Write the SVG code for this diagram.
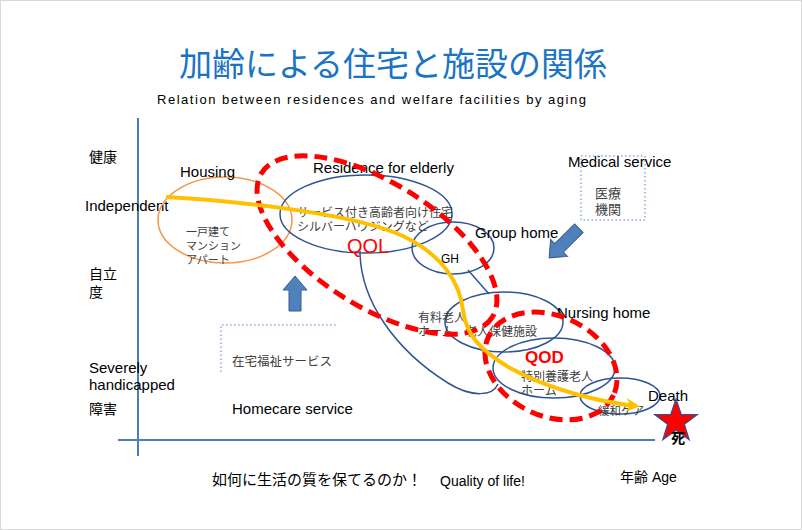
<svg xmlns="http://www.w3.org/2000/svg" width="802" height="530" viewBox="0 0 802 530">
<defs>
<style>
.en{font-family:"Liberation Sans",Arial,sans-serif;fill:#000}
.jp{font-family:"Liberation Sans","Noto Sans CJK JP",sans-serif;fill:#000}
.jpi{font-family:"Noto Sans CJK JP",sans-serif;fill:#404040;font-size:12px}
.el{fill:none;stroke:#2f5496;stroke-width:1.5}
.dash{fill:none;stroke:#ff0000;stroke-width:5;stroke-dasharray:13 7}
.dot{fill:none;stroke:#8eaadb;stroke-width:1.5;stroke-dasharray:1.5 2.5}
.axis{stroke:#4a7ebb;stroke-width:2;fill:none}
.barrow{fill:#4f81bd;stroke:#385d8a;stroke-width:1}
</style>
<marker id="ya" markerUnits="userSpaceOnUse" markerWidth="16" markerHeight="16" viewBox="0 0 16 16" refX="10" refY="8" orient="auto">
<path d="M0,1 L14,8 L0,15 L4,8 Z" fill="#ffc000"/>
</marker>
</defs>
<rect x="0.5" y="0.5" width="801" height="529" fill="#ffffff" stroke="#d9d9d9"/>

<g id="title">
<text x="393" y="76" text-anchor="middle" style="font-family:'Noto Sans CJK JP',sans-serif;font-size:33px;fill:#1a73c4">加齢による住宅と施設の関係</text>
<text x="157" y="104" class="en" style="font-size:13px" textLength="429" lengthAdjust="spacing">Relation between residences  and  welfare facilities by  aging</text>
</g>

<g id="axes">
<line x1="138" y1="118" x2="138" y2="456" class="axis"/>
<line x1="118" y1="440" x2="655" y2="440" class="axis"/>
</g>

<g id="y-labels">
<text x="89" y="162" class="jp" style="font-size:14px">健康</text>
<text x="85" y="211" class="en" style="font-size:15px">Independent</text>
<text x="89" y="279" class="jp" style="font-size:14px">自立</text>
<text x="89" y="297" class="jp" style="font-size:14px">度</text>
<text x="89" y="373" class="en" style="font-size:15px">Severely</text>
<text x="89" y="390" class="en" style="font-size:15px">handicapped</text>
<text x="89" y="414" class="jp" style="font-size:14px">障害</text>
</g>

<g id="housing">
<ellipse cx="225" cy="220" rx="67" ry="43" fill="none" stroke="#f79646" stroke-width="1.5"/>
<text x="180" y="177" class="en" style="font-size:15px">Housing</text>
<text x="186" y="236" class="jpi" style="font-size:11px">一戸建て</text>
<text x="186" y="250" class="jpi" style="font-size:11px">マンション</text>
<text x="186" y="264" class="jpi" style="font-size:11px">アパート</text>
</g>

<g id="residence">
<ellipse cx="366" cy="214" rx="86" ry="39" class="el"/>
<text x="313" y="173" class="en" style="font-size:15px">Residence for elderly</text>
<text x="297" y="217" class="jpi">サービス付き高齢者向け住宅</text>
<text x="297" y="231" class="jpi">シルバーハウジングなど</text>
</g>

<g id="facility-range">
<path d="M 360 251 C 360 300, 395 350, 448 383 C 472 398, 493 396, 498 384" class="el"/>
<path d="M 468 270 L 489 294" class="el"/>
</g>

<g id="group-home">
<ellipse cx="453" cy="248" rx="41" ry="26" class="el"/>
<text x="441" y="263" class="en" style="font-size:12px">GH</text>
<text x="475" y="238" class="en" style="font-size:15px">Group home</text>
</g>

<g id="nursing-home">
<ellipse cx="504" cy="322" rx="59" ry="30" class="el"/>
<text x="557" y="318" class="en" style="font-size:15px">Nursing home</text>
<text x="418" y="322" class="jpi">有料老人</text>
<text x="418" y="336" class="jpi">ホーム</text>
<text x="465" y="336" class="jpi">老人保健施設</text>
</g>

<g id="special-nursing">
<ellipse cx="554" cy="368" rx="61" ry="30" class="el"/>
<text x="521" y="381" class="jpi">特別養護老人</text>
<text x="521" y="395" class="jpi">ホーム</text>
</g>

<g id="palliative">
<ellipse cx="620" cy="396" rx="40" ry="18" class="el"/>
<text x="598" y="415" class="jpi" style="font-size:11.5px">緩和ケア</text>
<text x="648" y="401" class="en" style="font-size:15px">Death</text>
</g>

<g id="death">
<polygon points="676,399 681.2,414.3 697.4,414.5 684.4,424.2 689.2,439.7 676,430.3 662.8,439.7 667.6,424.2 654.6,414.5 670.8,414.3" fill="#ff0000" stroke="#2f5496" stroke-width="1.2"/>
<text x="671" y="443" class="jp" style="font-size:14px;font-weight:bold">死</text>
</g>

<g id="medical">
<rect x="581" y="156" width="64" height="64" class="dot"/>
<text x="568" y="167" class="en" style="font-size:15px">Medical service</text>
<text x="595" y="198" class="jpi" style="font-size:13px">医療</text>
<text x="595" y="214" class="jpi" style="font-size:13px">機関</text>
</g>

<g id="homecare">
<path d="M 221 372 L 221 325 L 338 325" class="dot"/>
<text x="232" y="366" class="jpi" style="font-size:12.5px">在宅福祉サービス</text>
<text x="232" y="414" class="en" style="font-size:15px">Homecare service</text>
</g>

<g id="qol-qod">
<ellipse cx="377" cy="245" rx="136" ry="62" transform="rotate(32 377 245)" class="dash"/>
<ellipse cx="551" cy="366" rx="69" ry="50" transform="rotate(25 551 366)" class="dash"/>
<text x="347" y="253" style="font-family:'Liberation Sans',sans-serif;font-size:20px;fill:#ff0000">QOL</text>
<text x="525" y="363" style="font-family:'Liberation Sans',sans-serif;font-size:17px;font-weight:bold;fill:#ff0000">QOD</text>
</g>

<g id="connectors">
<path d="M 166 197 C 250 202, 360 215, 405 237 C 445 257, 460 285, 463 310 C 466 335, 480 350, 510 368 C 550 390, 600 402, 636 406" fill="none" stroke="#ffc000" stroke-width="4" marker-end="url(#ya)"/>
<path d="M 295 276 L 307 290 L 301 290 L 301 311 L 289 311 L 289 290 L 283 290 Z" class="barrow"/>
<path d="M 0 -21 L 12 -7 L 6 -7 L 6 21 L -6 21 L -6 -7 L -12 -7 Z" transform="translate(564 243) rotate(225)" class="barrow"/>
</g>

<g id="footer">
<text x="212" y="485" class="jp" style="font-size:15px">如何に生活の質を保てるのか！</text>
<text x="440" y="486" class="en" style="font-size:14px">Quality of life!</text>
<text x="620" y="482" class="jp" style="font-size:14px">年齢 Age</text>
</g>
</svg>
